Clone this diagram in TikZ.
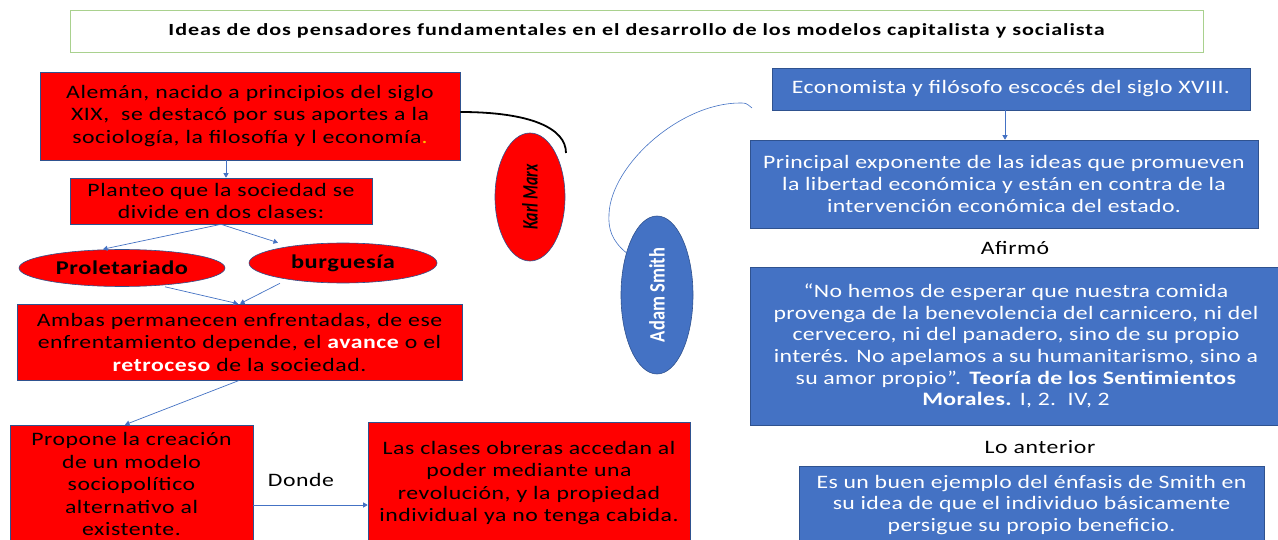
\documentclass[tikz,border=0pt]{standalone}
\usepackage{fontspec}
\usepackage{graphicx}
\setmainfont{Carlito}
\newfontfamily\redf{Carlito}[FakeStretch=1.25,LetterSpace=3]
\newfontfamily\bluef{Carlito}[FakeStretch=1.25,LetterSpace=2]
\newfontfamily\titf{Carlito}[FakeStretch=1.3,LetterSpace=5.5]
\usetikzlibrary{shapes.geometric,arrows.meta}
\definecolor{sred}{HTML}{FF0000}
\definecolor{sblue}{HTML}{4472C4}
\definecolor{sborder}{HTML}{2F528F}
\definecolor{tgreen}{HTML}{A9D18E}
\definecolor{dotc}{HTML}{FFC000}
\begin{document}
\begin{tikzpicture}[x=1pt,y=-1pt,
  redbox/.style={draw=sborder, line width=0.6pt, fill=sred, inner sep=0pt, align=center,
     font=\redf\fontsize{19}{22.5}\selectfont},
  bluebox/.style={draw=sborder, line width=0.6pt, fill=sblue, text=white, inner sep=0pt, align=center,
     font=\bluef\fontsize{19}{21.7}\selectfont},
  redell/.style={ellipse, draw=sborder, line width=0.6pt, fill=sred, inner sep=0pt,
     font=\redf\bfseries\fontsize{19.5}{22}\selectfont},
  conn/.style={draw=sblue, line width=0.7pt, -{Triangle[width=5pt,length=4.5pt]}},
  lbl/.style={inner sep=0pt, font=\redf\fontsize{19}{20}\selectfont}]
\useasboundingbox (0,0) rectangle (1278,540);
\clip (0,0) rectangle (1278,540);
\fill[white] (0,0) rectangle (1278,540);

% title
\node[draw=tgreen, line width=0.8pt, fill=white, minimum width=1133pt, minimum height=42pt, inner sep=0pt,
  font=\titf\bfseries\fontsize{17}{18}\selectfont] (T) at (636.5,31)
  {Ideas de dos pensadores fundamentales en el desarrollo de los modelos capitalista y socialista};

% Marx side
\node[redbox, minimum width=420pt, minimum height=88pt] (A) at (250,116)
  {Alemán, nacido a principios del siglo\\XIX,\ \ se destacó por sus aportes a la\\sociología, la filosofía y l economía\textcolor{dotc}{.}};
\node[redbox, minimum width=302pt, minimum height=46pt] (B) at (221,201)
  {Planteo que la sociedad se\\divide en dos clases:};
\node[redell, minimum width=206pt, minimum height=37pt] (P) at (122,268) {Proletariado};
\node[redell, minimum width=188pt, minimum height=40pt] (G) at (343,263) {burguesía};
\node[redbox, minimum width=445pt, minimum height=76pt] (C) at (239.5,342)
  {Ambas permanecen enfrentadas, de ese\\enfrentamiento depende, el \textcolor{white}{\bfseries avance} o el\\\textcolor{white}{\bfseries retroceso} de la sociedad.};
\node[redbox, minimum width=243pt, minimum height=118pt] (D) at (131.5,484)
  {Propone la creación\\de un modelo\\sociopolítico\\alternativo al\\existente.};
\node[redbox, minimum width=322pt, minimum height=122pt] (E) at (529,483)
  {Las clases obreras accedan al\\poder mediante una\\revolución, y la propiedad\\individual ya no tenga cabida.};
\node[lbl] (don) at (301,480) {Donde};

\node[ellipse, draw=sborder, line width=0.6pt, fill=sred, inner sep=0pt, rotate=90,
  minimum width=128pt, minimum height=70pt] (KM) at (530,197)
  {\scalebox{0.72}[1]{\bfseries\itshape\fontsize{22}{24}\selectfont Karl Marx}};

% Smith side
\node[ellipse, draw=sborder, line width=0.6pt, fill=sblue, inner sep=0pt, rotate=90,
  minimum width=158pt, minimum height=72pt, text=white] (AS) at (657,295)
  {\scalebox{0.84}[1]{\bfseries\fontsize{22}{24}\selectfont Adam Smith}};

\node[bluebox, minimum width=478pt, minimum height=42pt] (S1) at (1011,89)
  {Economista y filósofo escocés del siglo XVIII.};
\node[bluebox, minimum width=508pt, minimum height=88pt] (S2) at (1004,184)
  {Principal exponente de las ideas que promueven\\la libertad económica y están en contra de la\\intervención económica del estado.};
\node[lbl] (afi) at (1015,248) {Afirmó};
\node[bluebox, minimum width=532pt, minimum height=158pt] (S3) at (1016,346)
  {“No hemos de esperar que nuestra comida\\provenga de la benevolencia del carnicero, ni del\\cervecero, ni del panadero, sino de su\ propio\\interés. No apelamos a su\ humanitarismo, sino a\\su amor propio”. \textbf{Teoría de los Sentimientos}\\\textbf{Morales.} I, 2.\ \ IV, 2};
\node[lbl] (lo) at (1040,447) {Lo anterior};
\node[bluebox, minimum width=465pt, minimum height=78pt] (S4) at (1031.5,505)
  {Es un buen ejemplo del énfasis de Smith en\\su idea de que el individuo básicamente\\persigue su propio beneficio.};

% connectors
\draw[conn] (A.south -| 226,0) -- (B.north -| 226,0);
\draw[conn] (B.south) -- (P.north -| 103,0);
\draw[conn] (B.south) -- (G.north -| 278,0);
\draw[conn] (P.south -| 165,0) -- (C.north -| 238,0);
\draw[conn] (G.south -| 280,0) -- (C.north -| 240,0);
\draw[conn] (C.south) -- (D.north -| 125,0);
\draw[conn] (D.east |- 0,505) -- (E.west |- 0,505) ;
\draw[conn] (S1.south -| 1005,0) -- (S2.north -| 1005,0);

\coordinate (kmend) at (566,153);
\draw[black, line width=1.8pt] (A.east |- 0,112) .. controls (530,112) and (566,128) .. (kmend);
\coordinate (asend) at (752,108);
\draw[sblue, line width=0.6pt] (AS.36) .. controls (612,241) and (608,229) .. (609,214)
   .. controls (611,165) and (680,103) .. (740,103) .. controls (746,103) .. (asend);
\end{tikzpicture}
\end{document}
